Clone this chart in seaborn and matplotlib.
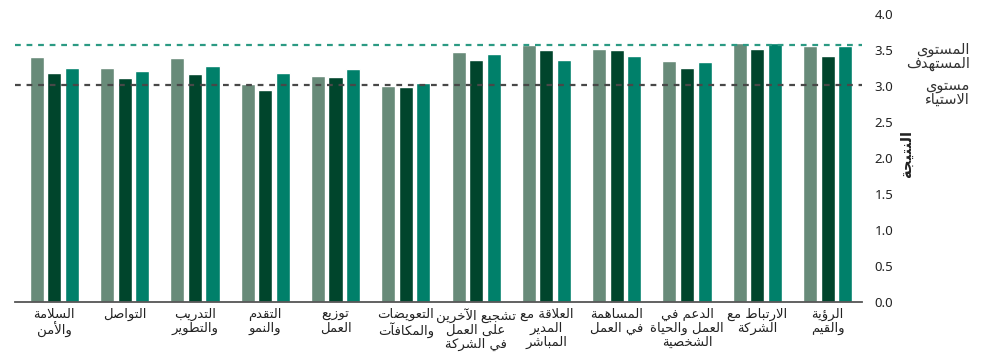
import matplotlib
matplotlib.use("Agg")
import matplotlib.pyplot as plt
import seaborn as sns
import pandas as pd

# ---------------------------------------------------------------- data
categories = [
    "السلامة\nوالأمن",
    "التواصل",
    "التدريب\nوالتطوير",
    "التقدم\nوالنمو",
    "توزيع\nالعمل",
    "التعويضات\nوالمكافآت",
    "تشجيع الآخرين\nعلى العمل\nفي الشركة",
    "العلاقة مع\nالمدير\nالمباشر",
    "المساهمة\nفي العمل",
    "الدعم في\nالعمل والحياة\nالشخصية",
    "الارتباط مع\nالشركة",
    "الرؤية\nوالقيم",
]
series_names = ["A", "B", "C"]
series_a = [3.40, 3.25, 3.39, 3.03, 3.14, 3.00, 3.47, 3.57, 3.51, 3.35, 3.60, 3.56]
series_b = [3.18, 3.11, 3.17, 2.94, 3.13, 2.99, 3.36, 3.50, 3.50, 3.25, 3.51, 3.42]
series_c = [3.25, 3.21, 3.28, 3.18, 3.24, 3.04, 3.44, 3.36, 3.42, 3.33, 3.60, 3.56]

target_level = 3.57
baseline_level = 3.02
target_label = "المستوى\nالمستهدف"
baseline_label = "مستوى\nالاستياء"
y_label = "النتيجة"
y_ticks = [0.0, 0.5, 1.0, 1.5, 2.0, 2.5, 3.0, 3.5, 4.0]

palette = ["#688b79", "#00452c", "#00806a"]

# ---------------------------------------------------------------- Arabic shaping
# contextual forms from the Arabic Presentation Forms-B block:
# (isolated code point, number of forms)  4 = dual-joining, 2 = right-joining
_FORMS = {
    'ء': (0xFE80, 1), 'آ': (0xFE81, 2), 'أ': (0xFE83, 2), 'ؤ': (0xFE85, 2),
    'إ': (0xFE87, 2), 'ئ': (0xFE89, 4), 'ا': (0xFE8D, 2), 'ب': (0xFE8F, 4),
    'ة': (0xFE93, 2), 'ت': (0xFE95, 4), 'ث': (0xFE99, 4), 'ج': (0xFE9D, 4),
    'ح': (0xFEA1, 4), 'خ': (0xFEA5, 4), 'د': (0xFEA9, 2), 'ذ': (0xFEAB, 2),
    'ر': (0xFEAD, 2), 'ز': (0xFEAF, 2), 'س': (0xFEB1, 4), 'ش': (0xFEB5, 4),
    'ص': (0xFEB9, 4), 'ض': (0xFEBD, 4), 'ط': (0xFEC1, 4), 'ظ': (0xFEC5, 4),
    'ع': (0xFEC9, 4), 'غ': (0xFECD, 4), 'ف': (0xFED1, 4), 'ق': (0xFED5, 4),
    'ك': (0xFED9, 4), 'ل': (0xFEDD, 4), 'م': (0xFEE1, 4), 'ن': (0xFEE5, 4),
    'ه': (0xFEE9, 4), 'و': (0xFEED, 2), 'ى': (0xFEEF, 2), 'ي': (0xFEF1, 4),
}
_LAM_ALEF = {'آ': 0xFEF5, 'أ': 0xFEF7, 'إ': 0xFEF9, 'ا': 0xFEFB}


def _shape_line(s):
    units = []
    i = 0
    while i < len(s):
        c = s[i]
        if c == 'ل' and i + 1 < len(s) and s[i + 1] in _LAM_ALEF:
            units.append(('LA', _LAM_ALEF[s[i + 1]]))
            i += 2
        else:
            units.append(('C', c))
            i += 1

    def joins_next(u):
        if u[0] == 'LA':
            return False
        f = _FORMS.get(u[1])
        return f is not None and f[1] == 4

    def joinable(u):
        if u[0] == 'LA':
            return True
        f = _FORMS.get(u[1])
        return f is not None and f[1] >= 2

    out = []
    for k, u in enumerate(units):
        prev = units[k - 1] if k > 0 else None
        nxt = units[k + 1] if k + 1 < len(units) else None
        p = prev is not None and joins_next(prev) and joinable(u)
        if u[0] == 'LA':
            out.append(chr(u[1] + (1 if p else 0)))
            continue
        f = _FORMS.get(u[1])
        if f is None:
            out.append(u[1])
            continue
        base, n = f
        nn = n == 4 and nxt is not None and joinable(nxt)
        if n == 1:
            form = 0
        elif p and nn:
            form = 3
        elif p:
            form = 1
        elif nn:
            form = 2
        else:
            form = 0
        out.append(chr(base + form))
    return ''.join(reversed(out))


def ar(text):
    return "\n".join(_shape_line(line) for line in text.split("\n"))


# ---------------------------------------------------------------- frame
rows = []
for name, vals in zip(series_names, [series_a, series_b, series_c]):
    for cat, v in zip(categories, vals):
        rows.append({"category": cat, "series": name, "score": v})
df = pd.DataFrame(rows)

sns.set_theme(style="white")
plt.rcParams["font.family"] = ["DejaVu Sans"]

fig = plt.figure(figsize=(9.95, 3.54), dpi=100)
ax = fig.add_axes([15 / 995, 52 / 354, 847 / 995, 288 / 354])

sns.barplot(
    data=df, x="category", y="score", hue="series",
    order=categories, hue_order=series_names,
    palette=palette, saturation=1, width=0.75, gap=0.2,
    legend=False, ax=ax, errorbar=None,
)

ax.axhline(target_level, color="#2b9a83", lw=1.6, ls=(0, (2.6, 2.6)), zorder=4)
ax.axhline(baseline_level, color="#484848", lw=1.6, ls=(0, (2.6, 2.6)), zorder=4)

ax.set_xlim(-0.56, 11.49)
ax.set_ylim(0, 4.0)
ax.set_yticks(y_ticks)
ax.set_yticklabels([f"{t:.1f}" for t in y_ticks], family=["Noto Sans"],
                   fontsize=9.5, color="#222222")
ax.yaxis.tick_right()
ax.tick_params(axis="y", length=0, pad=9)
ax.tick_params(axis="x", length=0, pad=4)
ax.set_xticks(range(len(categories)))
ax.set_xticklabels([ar(c) for c in categories], fontsize=9.5, color="#222222",
                   linespacing=1.1)
ax.set_xlabel("")
ax.set_ylabel("")

for side in ["top", "left", "right"]:
    ax.spines[side].set_visible(False)
ax.spines["bottom"].set_color("#555555")
ax.spines["bottom"].set_linewidth(1.3)

fig.text(906 / 995, 1 - 154 / 354, ar(y_label), rotation=90, ha="center",
         va="center", fontsize=10.5, fontweight="bold", color="#222222")
fig.text(970 / 995, 1 - 56.5 / 354, ar(target_label), ha="right", va="center",
         fontsize=10.5, color="#333333", linespacing=0.9)
fig.text(970 / 995, 1 - 92.5 / 354, ar(baseline_label), ha="right", va="center",
         fontsize=10.5, color="#333333", linespacing=0.9)

fig.savefig("out.png", dpi=100)
